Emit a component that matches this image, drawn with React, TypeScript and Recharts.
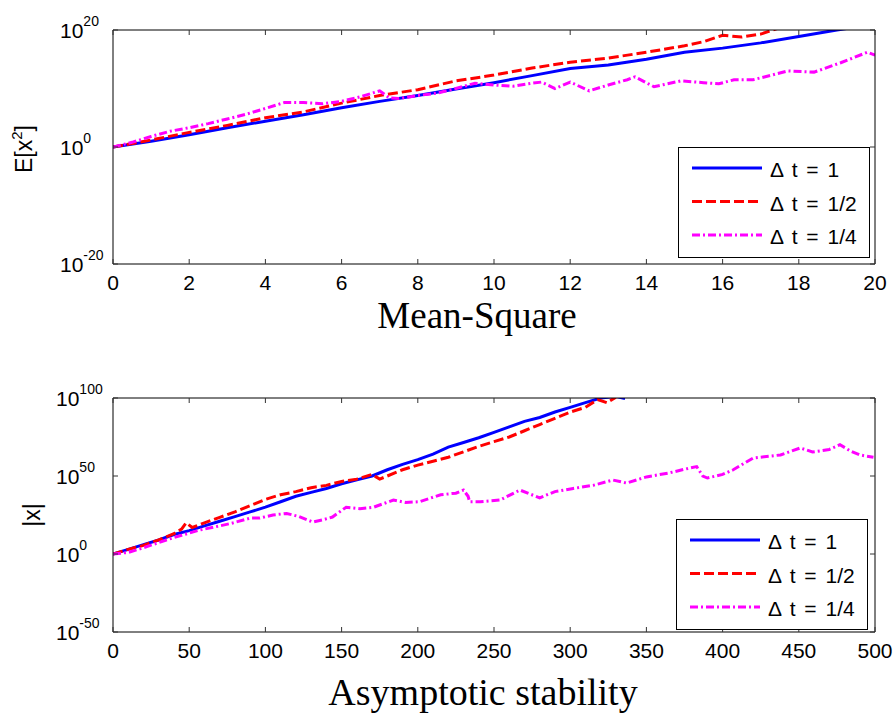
import React from 'react';
import { LineChart, Line, XAxis, YAxis, Legend, Label } from 'recharts';

// top panel: E[x^2] (values stored as log10 exponents)
const topTimeBlue = [0, 1, 2, 3, 4, 5, 6, 7, 8, 9, 10, 11, 12, 13, 14, 15, 16, 17, 18, 19, 20];
const topExpBlue = [0, 1.0, 2.1, 3.3, 4.4, 5.5, 6.7, 7.8, 8.8, 9.9, 11.0, 12.2, 13.4, 14.0, 15.0, 16.2, 16.9, 17.8, 18.9, 20.0, 21.0];
const topTimeRed = [0, 1, 2, 3, 4, 5, 6, 7, 8, 9, 10, 11, 12, 13, 14, 15, 15.5, 16, 16.5, 17, 17.5, 18];
const topExpRed = [0, 1.2, 2.5, 3.7, 5.0, 6.0, 7.5, 8.8, 9.8, 11.3, 12.3, 13.5, 14.5, 15.2, 16.2, 17.3, 18.0, 19.1, 18.8, 19.3, 20.4, 21.0];
const topTimeMag = [0, 0.5, 1, 1.5, 2, 2.5, 3, 3.5, 4, 4.5, 5, 5.5, 6, 6.5, 7, 7.25, 7.5, 8, 8.5, 9, 9.5, 10, 10.5, 11, 11.25, 11.6, 12, 12.5, 13, 13.5, 13.7, 14.2, 14.9, 15.5, 15.9, 16.3, 16.8, 17.3, 17.7, 18.4, 19.1, 19.8, 20];
const topExpMag = [0, 0.8, 1.8, 2.7, 3.3, 4.0, 4.8, 5.6, 6.6, 7.6, 7.6, 7.4, 7.8, 8.6, 9.6, 8.4, 8.3, 8.8, 9.2, 10.0, 10.9, 10.6, 10.4, 10.9, 11.1, 10.0, 11.1, 9.6, 10.6, 11.5, 12.0, 10.3, 11.3, 11.0, 10.8, 11.5, 11.5, 12.3, 13.0, 12.8, 14.4, 16.2, 15.7];

// bottom panel: |x|
const botTimeBlue = [0, 10, 20, 30, 40, 50, 60, 70, 80, 90, 100, 110, 120, 130, 140, 150, 160, 170, 180, 190, 200, 210, 220, 230, 240, 250, 260, 270, 280, 290, 300, 310, 320, 330, 336];
const botExpBlue = [0, 3, 6, 9, 12.5, 15, 18, 21, 24, 27, 30, 33.5, 37, 39.5, 42, 45, 47.5, 50, 54, 57.5, 60.5, 64, 68.5, 71.5, 74.5, 78, 81.5, 85, 87.5, 91, 94, 97, 100, 101, 99.7];
const botTimeRed = [0, 10, 20, 30, 40, 45, 48, 52, 60, 70, 80, 90, 100, 110, 120, 130, 140, 150, 160, 170, 175, 180, 190, 200, 210, 220, 230, 240, 250, 260, 270, 280, 290, 300, 310, 318, 324, 330];
const botExpRed = [0, 3, 5.5, 9, 13, 16, 20, 17, 20, 23.5, 27, 31, 35, 38, 40, 42.5, 44, 46.5, 48, 51, 48, 50, 54, 57, 59.5, 62, 65.5, 69, 72, 75, 79, 83, 87, 91, 94, 99, 97, 100.5];
const botTimeMag = [0, 10, 20, 35, 45, 57, 70, 79, 90, 96, 105, 114, 122, 131, 138, 144, 153, 162, 171, 184, 192, 201, 215, 225, 230, 233, 234, 241, 254, 267, 280, 290, 302, 315, 328, 337, 350, 365, 378, 383, 387, 390, 400, 407, 420, 438, 451, 459, 470, 477, 484, 490, 499];
const botExpMag = [0, 1, 4, 9, 12, 15.4, 18, 20, 23, 23, 25, 26, 24, 20.5, 22, 23.7, 30, 29, 30, 34.6, 33, 33.5, 38, 39, 41, 37, 33.5, 33.5, 34.6, 41, 36, 40, 42, 44, 47.4, 45.5, 49.4, 52, 55, 56, 50, 48.7, 51, 54, 61.5, 63.5, 68, 65.4, 67, 70, 66, 63.5, 62];

const topXTicks = [0, 2, 4, 6, 8, 10, 12, 14, 16, 18, 20];
const topYTicks = [1e-20, 1, 1e20];
const botXTicks = [0, 50, 100, 150, 200, 250, 300, 350, 400, 450, 500];
const botYTicks = [1e-50, 1, 1e50, 1e100];

const seriesNames = ['\u0394 t = 1', '\u0394 t = 1/2', '\u0394 t = 1/4'];

const toData = (ts: number[], es: number[]) => ts.map((t, i) => ({ x: t, y: Math.pow(10, es[i]) }));

const styles = [
  { color: '#0000ff', dash: undefined as string | undefined },
  { color: '#ff0000', dash: '10 4' },
  { color: '#ff00ff', dash: '8 3 2 3' },
];

const SANS = 'Liberation Sans, Arial, sans-serif';
const SERIF = 'Liberation Serif, Times New Roman, serif';

const PLOT_W = 762;
const PLOT_H = 234;
const TICK = 5;

// bottom axis tick: label below, plus inward tick marks on bottom and top edges
const XTick = (props: any) => {
  const { x, y, payload } = props;
  return (
    <g>
      <line x1={x} x2={x} y1={y} y2={y - TICK} stroke="#333" />
      <line x1={x} x2={x} y1={y - PLOT_H} y2={y - PLOT_H + TICK} stroke="#333" />
      <text x={x} y={y} dy={26} textAnchor="middle" fontSize={21} fontFamily={SANS} fill="#000">
        {payload.value}
      </text>
    </g>
  );
};

const makeYTick = (labelX: number) => (props: any) => {
  const { x, y, payload } = props;
  const e = Math.round(Math.log10(payload.value));
  return (
    <g>
      <line x1={x} x2={x + TICK} y1={y} y2={y} stroke="#333" />
      <line x1={x + PLOT_W} x2={x + PLOT_W - TICK} y1={y} y2={y} stroke="#333" />
      <text x={labelX} y={y + 8} fontSize={21} fontFamily={SANS} fill="#000">
        10
        <tspan dy={-12} fontSize={14}>{e}</tspan>
      </text>
    </g>
  );
};

const LegendBox = () => (
  <svg width={192} height={111} style={{ display: 'block' }}>
    <rect x={0.5} y={0.5} width={191} height={110} fill="#fff" stroke="#000" />
    {styles.map((s, i) => (
      <g key={i}>
        <line x1={14} x2={84} y1={21 + i * 33.5} y2={21 + i * 33.5} stroke={s.color} strokeWidth={3} strokeDasharray={s.dash} />
        <text x={92} y={30 + i * 33.5} fontSize={21} wordSpacing={3} fontFamily={SANS} fill="#000">{seriesNames[i]}</text>
      </g>
    ))}
  </svg>
);

interface PanelProps {
  top: number;
  height: number;
  margin: { top: number; right: number; left: number; bottom: number };
  xMax: number;
  xTicks: number[];
  yDomain: [number, number];
  yTicks: number[];
  labelX: number;
  yLabel: React.ReactNode;
  legendPos: { left: number; top: number };
  series: { x: number; y: number }[][];
}

const Panel = ({ top, height, margin, xMax, xTicks, yDomain, yTicks, labelX, yLabel, legendPos, series }: PanelProps) => (
  <div style={{ position: 'absolute', left: 0, top }}>
    <LineChart width={896} height={height} margin={margin}>
      <XAxis xAxisId={0} dataKey="x" type="number" domain={[0, xMax]} ticks={xTicks} interval={0} height={30}
        tickLine={false} tickSize={0} tickMargin={0} tick={<XTick />} stroke="#000" allowDataOverflow />
      <XAxis xAxisId="tp" orientation="top" dataKey="x" type="number" domain={[0, xMax]} height={1}
        mirror tick={false} tickLine={false} stroke="#000" />
      <YAxis yAxisId={0} type="number" scale="log" domain={yDomain} ticks={yTicks} interval={0} width={60}
        tickLine={false} tickSize={0} tickMargin={0} tick={makeYTick(labelX)} stroke="#000" allowDataOverflow>
        <Label content={() => yLabel} />
      </YAxis>
      <YAxis yAxisId="rt" orientation="right" type="number" scale="log" domain={yDomain} width={1}
        mirror tick={false} tickLine={false} stroke="#000" allowDataOverflow />
      {series.map((d, i) => (
        <Line key={i} data={d} dataKey="y" name={seriesNames[i]} xAxisId={0} yAxisId={0}
          stroke={styles[i].color} strokeWidth={3} strokeDasharray={styles[i].dash}
          dot={false} activeDot={false} isAnimationActive={false} />
      ))}
      <Legend layout="vertical" align="center" verticalAlign="middle" content={() => <LegendBox />}
        wrapperStyle={{ left: legendPos.left, top: legendPos.top, width: 192, height: 111 }} />
    </LineChart>
  </div>
);

export default function App() {
  const topSeries = [toData(topTimeBlue, topExpBlue), toData(topTimeRed, topExpRed), toData(topTimeMag, topExpMag)];
  const botSeries = [toData(botTimeBlue, botExpBlue), toData(botTimeRed, botExpRed), toData(botTimeMag, botExpMag)];

  return (
    <div style={{ position: 'absolute', left: 0, top: 0, width: 896, height: 723, background: '#fff' }}>
      <Panel
        top={0}
        height={300}
        margin={{ top: 30, right: 21, left: 53, bottom: 6 }}
        xMax={20}
        xTicks={topXTicks}
        yDomain={[1e-20, 1e20]}
        yTicks={topYTicks}
        labelX={60}
        yLabel={
          <text transform="translate(32,149) rotate(-90)" textAnchor="middle" fontSize={23} fontFamily={SANS} fill="#000">
            E[x<tspan dy={-10} fontSize={15}>2</tspan><tspan dy={10}>]</tspan>
          </text>
        }
        legendPos={{ left: 678, top: 147 }}
        series={topSeries}
      />
      <Panel
        top={360}
        height={310}
        margin={{ top: 38, right: 21, left: 53, bottom: 8 }}
        xMax={500}
        xTicks={botXTicks}
        yDomain={[1e-50, 1e100]}
        yTicks={botYTicks}
        labelX={56}
        yLabel={
          <text transform="translate(40,155) rotate(-90)" textAnchor="middle" fontSize={23} fontFamily={SANS} fill="#000">
            |x|
          </text>
        }
        legendPos={{ left: 676, top: 159 }}
        series={botSeries}
      />
      <svg width={896} height={723} style={{ position: 'absolute', left: 0, top: 0, pointerEvents: 'none' }}>
        <text x={477} y={328} textAnchor="middle" fontSize={37} fontFamily={SERIF} fill="#000">Mean-Square</text>
        <text x={483} y={705} textAnchor="middle" fontSize={38} fontFamily={SERIF} fill="#000">Asymptotic stability</text>
      </svg>
    </div>
  );
}
